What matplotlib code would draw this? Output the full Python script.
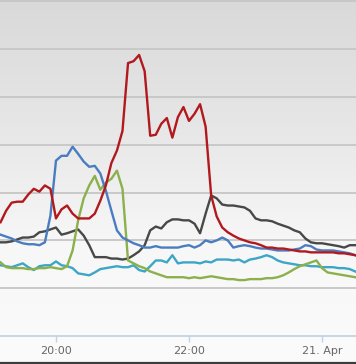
import numpy as np
import pandas as pd
import matplotlib
matplotlib.use('Agg')
from matplotlib import pyplot as plt
from matplotlib.lines import Line2D
import matplotlib.dates as mdates

# time axis: 5 minute samples, 19:10 -> 00:30
times = pd.date_range('2013-04-20 19:10', periods=65, freq='5min')

red = [2.38, 2.62, 2.79, 2.81, 2.81, 2.96, 3.08, 3.02, 3.15, 3.08,
       2.46, 2.65, 2.73, 2.56, 2.46, 2.46, 2.46, 2.56, 2.83, 3.15,
       3.62, 3.88, 4.29, 5.71, 5.75, 5.88, 5.54, 4.19, 4.21, 4.44,
       4.56, 4.15, 4.58, 4.79, 4.50, 4.65, 4.85, 4.38, 2.94, 2.50,
       2.27, 2.17, 2.10, 2.04, 2.00, 1.96, 1.94, 1.90, 1.85, 1.85,
       1.83, 1.83, 1.81, 1.79, 1.77, 1.77, 1.75, 1.75, 1.75, 1.75,
       1.75, 1.73, 1.73, 1.71, 1.69]

blue = [2.12, 2.08, 2.04, 1.98, 1.94, 1.92, 1.92, 1.90, 1.96, 2.52,
        3.67, 3.77, 3.77, 3.96, 3.81, 3.65, 3.54, 3.56, 3.40, 3.04,
        2.62, 2.21, 2.06, 2.00, 1.94, 1.90, 1.85, 1.85, 1.88, 1.85,
        1.85, 1.85, 1.85, 1.88, 1.90, 1.85, 1.90, 2.00, 1.96, 2.00,
        2.06, 2.00, 1.85, 1.88, 1.90, 1.88, 1.85, 1.83, 1.83, 1.81,
        1.79, 1.79, 1.79, 1.81, 1.83, 1.90, 1.88, 1.81, 1.79, 1.79,
        1.79, 1.77, 1.75, 1.73, 1.69]

green = [1.54, 1.44, 1.42, 1.42, 1.42, 1.40, 1.40, 1.42, 1.42, 1.44,
         1.42, 1.40, 1.46, 1.79, 2.42, 2.88, 3.15, 3.35, 3.06, 3.21,
         3.29, 3.46, 3.08, 1.58, 1.52, 1.46, 1.42, 1.35, 1.31, 1.27,
         1.23, 1.23, 1.23, 1.23, 1.21, 1.23, 1.21, 1.23, 1.25, 1.23,
         1.21, 1.19, 1.19, 1.17, 1.17, 1.19, 1.19, 1.19, 1.21, 1.21,
         1.23, 1.27, 1.33, 1.40, 1.46, 1.50, 1.54, 1.58, 1.42, 1.33,
         1.31, 1.29, 1.27, 1.25, 1.23]

teal = [1.48, 1.46, 1.44, 1.48, 1.52, 1.44, 1.38, 1.46, 1.48, 1.48,
        1.56, 1.48, 1.46, 1.42, 1.31, 1.29, 1.27, 1.33, 1.40, 1.42,
        1.44, 1.46, 1.44, 1.44, 1.48, 1.38, 1.35, 1.46, 1.58, 1.58,
        1.54, 1.69, 1.52, 1.54, 1.54, 1.54, 1.52, 1.56, 1.54, 1.60,
        1.60, 1.60, 1.58, 1.60, 1.54, 1.60, 1.62, 1.65, 1.69, 1.65,
        1.58, 1.54, 1.52, 1.50, 1.48, 1.48, 1.46, 1.46, 1.44, 1.44,
        1.44, 1.42, 1.42, 1.40, 1.35]

gray = [1.96, 1.96, 1.98, 2.02, 2.06, 2.06, 2.08, 2.17, 2.19, 2.23,
        2.27, 2.12, 2.15, 2.19, 2.23, 2.10, 1.90, 1.65, 1.65, 1.65,
        1.62, 1.62, 1.60, 1.62, 1.69, 1.77, 1.90, 2.21, 2.29, 2.25,
        2.38, 2.44, 2.44, 2.42, 2.42, 2.35, 2.15, 2.56, 2.94, 2.88,
        2.75, 2.73, 2.73, 2.71, 2.69, 2.62, 2.46, 2.42, 2.42, 2.40,
        2.35, 2.31, 2.27, 2.21, 2.17, 2.04, 1.96, 1.94, 1.94, 1.92,
        1.90, 1.88, 1.85, 1.90, 1.90]

tick_times = pd.to_datetime(['2013-04-20 20:00', '2013-04-20 22:00', '2013-04-21 00:00'])
tick_labels = ['20:00', '22:00', '21. Apr']

fig = plt.figure(figsize=(3.56, 3.64), dpi=100)

# background gradient over the whole picture
bg = fig.add_axes([0, 0, 1, 1], zorder=-5)
grad = np.linspace(0, 1, 256).reshape(-1, 1)
bg.imshow(grad, aspect='auto', cmap=matplotlib.colors.LinearSegmentedColormap.from_list(
    'bg', ['#d9d9d9', '#e6e6e6', '#f7f7f7', '#fbfbfb']), extent=[0, 1, 0, 1], origin='upper')
bg.axis('off')

ax = fig.add_axes([0, 28 / 364, 1, 336 / 364])
ax.patch.set_alpha(0)

x0 = pd.Timestamp('2013-04-20 19:09:30')
x1 = pd.Timestamp('2013-04-21 00:30:40')
ax.set_xlim(mdates.date2num(x0), mdates.date2num(x1))
ax.set_ylim(0, 7.03)

for v in range(1, 8):
    ax.axhline(v, color='#c6c6c6', lw=1.3, zorder=1)

lw = 1.7
ax.plot(times, gray, color='#484848', lw=lw, zorder=3)
ax.plot(times, teal, color='#3da6c6', lw=lw, zorder=3)
ax.plot(times, green, color='#8bb04c', lw=lw, zorder=3)
ax.plot(times, blue, color='#4a7dc0', lw=lw, zorder=3)
ax.plot(times, red, color='#b2191e', lw=lw, zorder=4)

for s in ['left', 'right', 'top']:
    ax.spines[s].set_visible(False)
ax.spines['bottom'].set_color('#c3d3e3')
ax.spines['bottom'].set_linewidth(1.3)
ax.set_yticks([])
ax.set_xticks(mdates.date2num(tick_times))
ax.set_xticklabels(tick_labels)
ax.tick_params(axis='x', colors='#c3d3e3', length=4, width=1, pad=3,
               labelcolor='#666666', labelsize=8)

fig.add_artist(Line2D([0, 1], [1.5 / 364, 1.5 / 364], transform=fig.transFigure,
                      color='#3c3c3c', lw=1.6))

fig.savefig('out.png', dpi=100)
